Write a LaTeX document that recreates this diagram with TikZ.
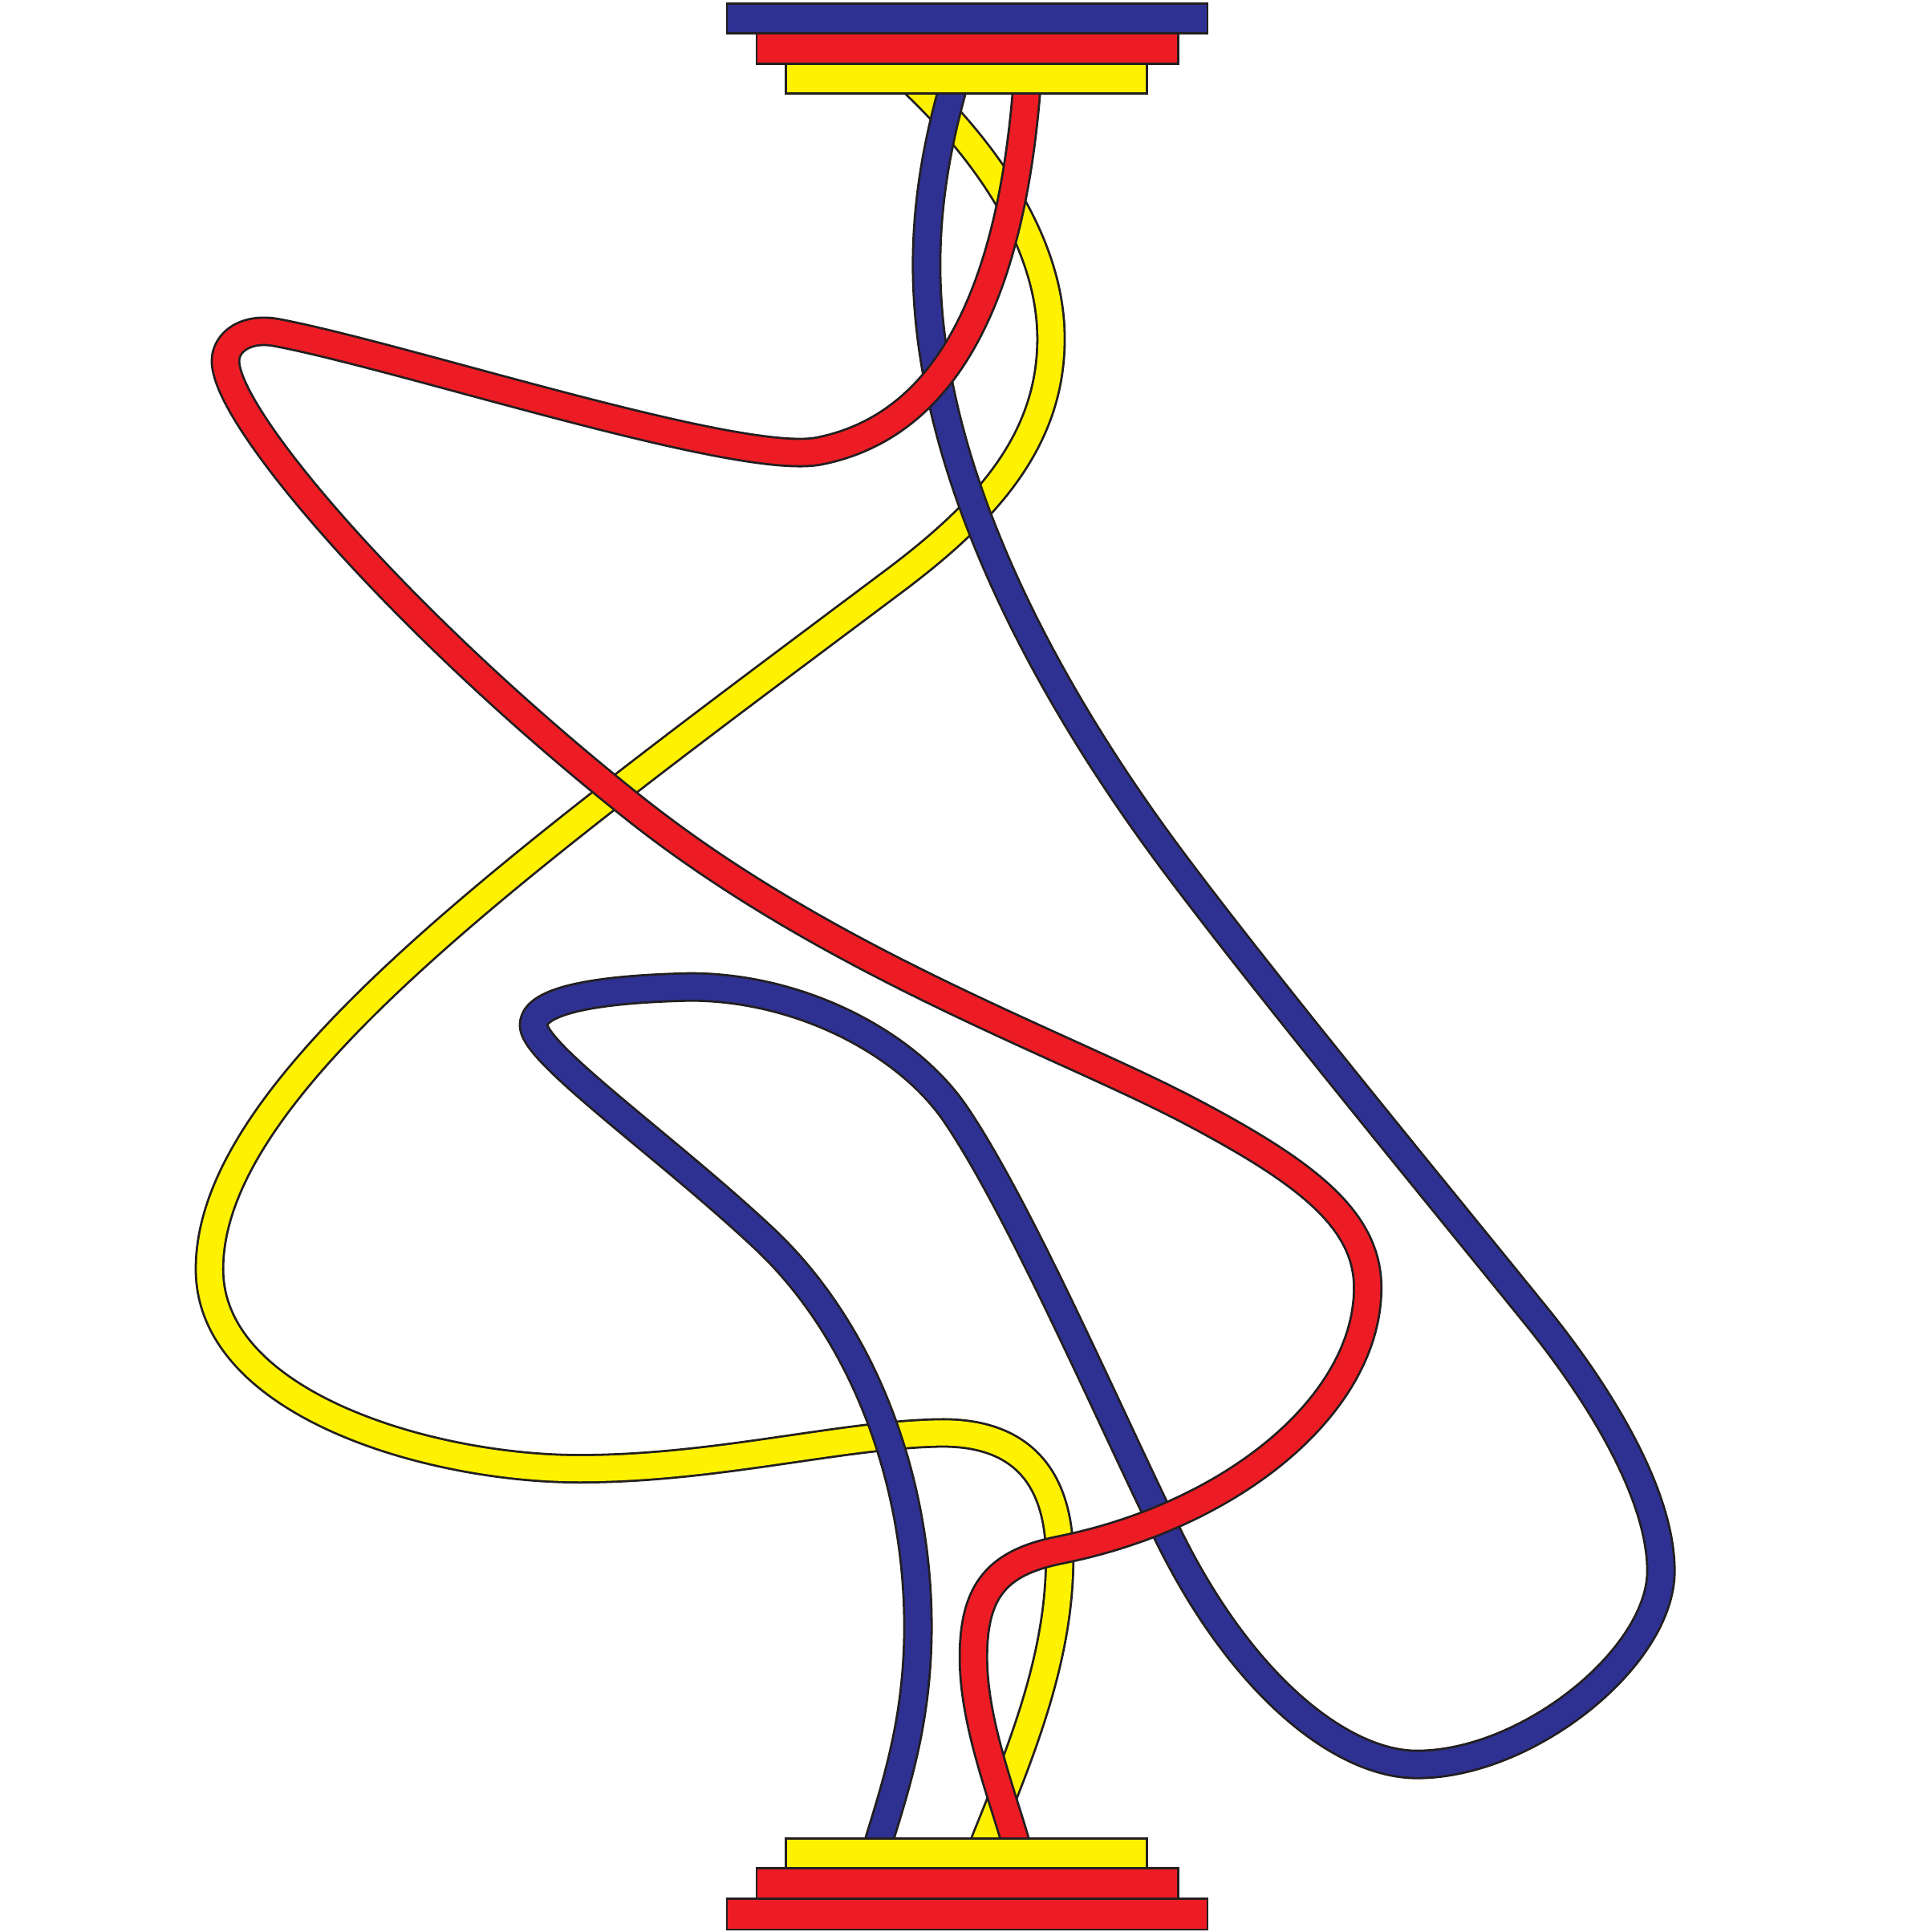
\documentclass[tikz,border=0pt]{standalone}
\definecolor{cblue}{HTML}{2E3192}
\definecolor{cred}{HTML}{ED1C24}
\definecolor{cyel}{HTML}{FFF200}
\definecolor{cout}{HTML}{231F20}
\newcommand\mystrand[2]{%
  \draw[line width=0.369cm,cout,line join=round] #2;
  \draw[line width=0.313cm,#1,line join=round] #2;}
\begin{document}
\begin{tikzpicture}[x=0.015357cm,y=-0.015357cm,
  bar/.style={draw=cout,line width=0.028cm}]
\useasboundingbox (0,0) rectangle (1568,1568);
% yellow strand (bottom layer)
\mystrand{cyel}{(736,62) .. controls (790,112) and (853,190) .. (853,275)
  .. controls (853,360) and (797,418) .. (725,472)
  .. controls (421,700) and (170,880) .. (170,1030)
  .. controls (170,1140) and (350,1192) .. (470,1192)
  .. controls (580,1192) and (680,1165) .. (760,1163)
  .. controls (830,1161) and (860,1200) .. (860,1265)
  .. controls (860,1350) and (825,1430) .. (795,1505)}
% blue strand (middle layer)
\mystrand{cblue}{(776,62) .. controls (762,110) and (752,160) .. (752,215)
  .. controls (752,400) and (870,590) .. (955,703)
  .. controls (1033,807) and (1174,978) .. (1250,1072)
  .. controls (1294,1127) and (1348,1210) .. (1348,1275)
  .. controls (1348,1345) and (1240,1432) .. (1150,1432)
  .. controls (1090,1432) and (1010,1370) .. (950,1250)
  .. controls (905,1160) and (830,985) .. (776,905)
  .. controls (737,847) and (650,801) .. (560,801)
  .. controls (470,803) and (433,815) .. (433,832)
  .. controls (433,855) and (540,930) .. (620,1005)
  .. controls (700,1080) and (745,1200) .. (745,1320)
  .. controls (745,1400) and (725,1455) .. (710,1505)}
% red strand (top layer)
\mystrand{cred}{(834,62) .. controls (822,235) and (770,345) .. (665,366)
  .. controls (600,379) and (330,290) .. (225,270)
  .. controls (199,265) and (183,278) .. (183,293)
  .. controls (183,340) and (330,510) .. (520,660)
  .. controls (680,785) and (870,850) .. (972,905)
  .. controls (1060,952) and (1110,990) .. (1110,1045)
  .. controls (1110,1140) and (1000,1230) .. (860,1258)
  .. controls (810,1268) and (790,1290) .. (790,1345)
  .. controls (790,1400) and (815,1460) .. (827,1505)}
% top bars
\path[bar,fill=cblue] (590,3) rectangle (980,27);
\path[bar,fill=cred] (614,27) rectangle (956,52);
\path[bar,fill=cyel] (638,52) rectangle (931,76);
% bottom bars
\path[bar,fill=cyel] (638,1492) rectangle (931,1516);
\path[bar,fill=cred] (614,1516) rectangle (956,1541);
\path[bar,fill=cred] (590,1541) rectangle (980,1566);
\end{tikzpicture}
\end{document}
